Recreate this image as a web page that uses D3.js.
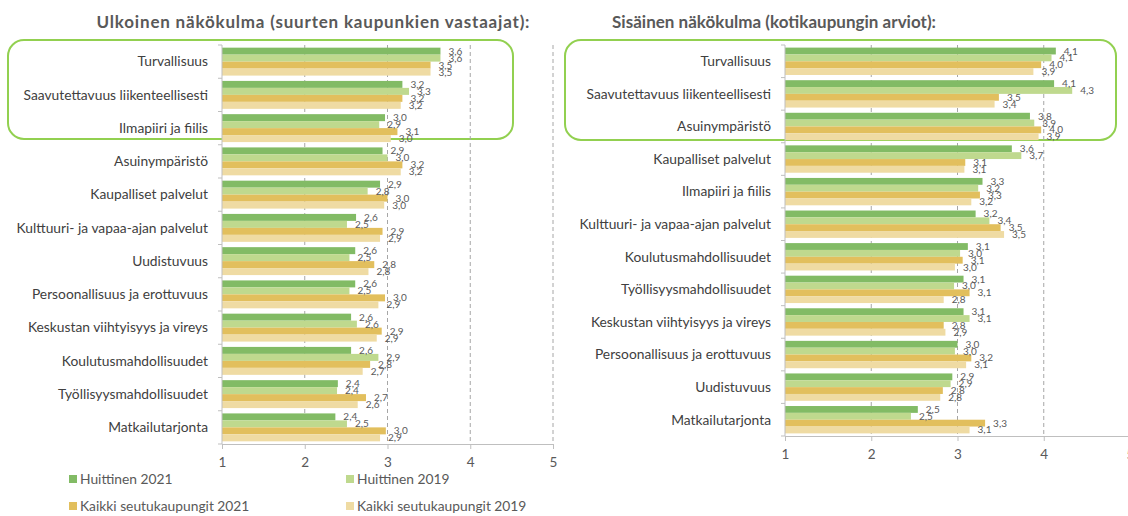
<!DOCTYPE html>
<html>
<head>
<meta charset="UTF-8">
<script src="https://d3js.org/d3.v7.min.js"></script>
<style>
    body { margin: 0; background: #ffffff; }
    svg { display: block; font-family: Lato, "Noto Sans", sans-serif; }
</style>
</head>
<body>
<svg id="chart" width="1128" height="516"></svg>
<script>
    // series names (legend)
    const seriesNames = ["Huittinen 2021", "Huittinen 2019", "Kaikki seutukaupungit 2021", "Kaikki seutukaupungit 2019"];

    // left panel: Ulkoinen näkökulma
    const leftCategories = ["Turvallisuus", "Saavutettavuus liikenteellisesti", "Ilmapiiri ja fiilis", "Asuinympäristö",
        "Kaupalliset palvelut", "Kulttuuri- ja vapaa-ajan palvelut", "Uudistuvuus", "Persoonallisuus ja erottuvuus",
        "Keskustan viihtyisyys ja vireys", "Koulutusmahdollisuudet", "Työllisyysmahdollisuudet", "Matkailutarjonta"];
    const leftH2021 = [3.64, 3.18, 2.97, 2.94, 2.91, 2.62, 2.61, 2.61, 2.56, 2.56, 2.40, 2.37];
    const leftH2019 = [3.64, 3.26, 2.90, 3.00, 2.76, 2.51, 2.54, 2.54, 2.63, 2.89, 2.39, 2.51];
    const leftK2021 = [3.52, 3.18, 3.12, 3.18, 3.00, 2.94, 2.84, 2.97, 2.93, 2.79, 2.74, 2.98];
    const leftK2019 = [3.52, 3.16, 3.04, 3.16, 2.96, 2.91, 2.77, 2.89, 2.87, 2.70, 2.64, 2.91];

    // right panel: Sisäinen näkökulma
    const rightCategories = ["Turvallisuus", "Saavutettavuus liikenteellisesti", "Asuinympäristö", "Kaupalliset palvelut",
        "Ilmapiiri ja fiilis", "Kulttuuri- ja vapaa-ajan palvelut", "Koulutusmahdollisuudet", "Työllisyysmahdollisuudet",
        "Keskustan viihtyisyys ja vireys", "Persoonallisuus ja erottuvuus", "Uudistuvuus", "Matkailutarjonta"];
    const rightH2021 = [4.14, 4.12, 3.84, 3.63, 3.29, 3.21, 3.12, 3.07, 3.07, 3.00, 2.94, 2.54];
    const rightH2019 = [4.09, 4.33, 3.89, 3.74, 3.24, 3.37, 3.03, 2.96, 3.14, 2.97, 2.92, 2.46];
    const rightK2021 = [3.97, 3.48, 3.97, 3.09, 3.26, 3.50, 3.06, 3.14, 2.84, 3.16, 2.83, 3.32];
    const rightK2019 = [3.88, 3.43, 3.94, 3.08, 3.16, 3.54, 2.97, 2.84, 2.86, 3.10, 2.80, 3.14];

    const axisTicks = [1, 2, 3, 4, 5];

    const colors = ["#82bb65", "#bfd98e", "#e2bf5d", "#efdba3"];
    const textColor = "#595959";
    const gridColor = "#a6a6a6";
    const axisColor = "#bfbfbf";

    const svg = d3.select("#chart");
    const fmt = v => d3.format(".1f")(v).replace(".", ",");

    function drawPanel(p) {
        const g = svg.append("g");

        const x = d3.scaleLinear().domain([1, 5]).range([p.x0, p.x1]);
        const y = d3.scaleBand().domain(p.categories).range([p.y0, p.y1])
            .paddingInner(0.16).paddingOuter(0.08);
        const ySub = d3.scaleBand().domain(d3.range(4)).range([0, y.bandwidth()]);

        // highlight box
        g.append("rect")
            .attr("x", p.box[0]).attr("y", p.box[1])
            .attr("width", p.box[2]).attr("height", p.box[3])
            .attr("rx", 16).attr("ry", 16)
            .attr("fill", "none")
            .attr("stroke", "#92d050")
            .attr("stroke-width", 2);

        // dashed grid
        g.selectAll(".grid")
            .data(axisTicks.filter(t => t > 1))
            .enter().append("line")
            .attr("x1", d => x(d)).attr("x2", d => x(d))
            .attr("y1", p.y0).attr("y2", p.y1)
            .attr("stroke", gridColor)
            .attr("stroke-dasharray", "4,3");

        // bars
        p.series.forEach((vals, si) => {
            g.selectAll(".bar" + si)
                .data(vals)
                .enter().append("rect")
                .attr("x", x(1))
                .attr("y", (d, i) => y(p.categories[i]) + ySub(si))
                .attr("width", d => x(d) - x(1))
                .attr("height", ySub.bandwidth())
                .attr("fill", colors[si]);
        });

        // value labels
        p.series.forEach((vals, si) => {
            g.selectAll(".lab" + si)
                .data(vals)
                .enter().append("text")
                .attr("x", d => x(d) + 8)
                .attr("y", (d, i) => y(p.categories[i]) + ySub(si) + ySub.bandwidth() / 2)
                .attr("dy", "0.35em")
                .attr("font-size", 10)
                .attr("fill", textColor)
                .text(d => fmt(d));
        });

        // left axis with ticks at category boundaries
        g.append("line")
            .attr("x1", x(1)).attr("x2", x(1))
            .attr("y1", p.y0).attr("y2", p.y1)
            .attr("stroke", axisColor);
        const step = (p.y1 - p.y0) / p.categories.length;
        g.selectAll(".ctick")
            .data(d3.range(p.categories.length + 1))
            .enter().append("line")
            .attr("x1", x(1) - 4).attr("x2", x(1))
            .attr("y1", d => p.y0 + d * step).attr("y2", d => p.y0 + d * step)
            .attr("stroke", axisColor);

        g.selectAll(".cat")
            .data(p.categories)
            .enter().append("text")
            .attr("x", p.labelX)
            .attr("y", d => y(d) + y.bandwidth() / 2)
            .attr("dy", "0.35em")
            .attr("text-anchor", "end")
            .attr("font-size", 13.8)
            .attr("fill", "#404040")
            .text(d => d);

        // bottom axis
        const xAxis = g.append("g")
            .attr("transform", `translate(0,${p.y1})`)
            .call(d3.axisBottom(x).tickValues(axisTicks).tickSize(5).tickSizeOuter(0).tickPadding(8).tickFormat(d3.format("d")));
        xAxis.select(".domain").attr("stroke", axisColor);
        xAxis.selectAll(".tick line").attr("stroke", axisColor);
        xAxis.selectAll("text")
            .attr("fill", textColor)
            .attr("font-size", 13.5)
            .attr("font-family", "Lato, 'Noto Sans', sans-serif");

        // title
        svg.append("text")
            .attr("x", p.titleX).attr("y", 22)
            .attr("text-anchor", "middle")
            .attr("dy", "0.35em")
            .attr("font-size", 17)
            .attr("font-weight", "bold")
            .attr("fill", textColor)
            .attr("textLength", p.titleWidth)
            .attr("lengthAdjust", "spacing")
            .text(p.title);
    }

    drawPanel({
        title: "Ulkoinen näkökulma (suurten kaupunkien vastaajat):",
        titleX: 313, titleWidth: 433,
        categories: leftCategories,
        series: [leftH2021, leftH2019, leftK2021, leftK2019],
        x0: 222, x1: 553, y0: 45, y1: 444,
        labelX: 208,
        box: [8, 40, 505, 99]
    });

    drawPanel({
        title: "Sisäinen näkökulma (kotikaupungin arviot):",
        titleX: 774, titleWidth: 324,
        categories: rightCategories,
        series: [rightH2021, rightH2019, rightK2021, rightK2019],
        x0: 785, x1: 1130, y0: 45, y1: 436,
        labelX: 771,
        box: [565, 40, 551, 100]
    });

    // legend
    const legendPos = [[69, 479], [346, 479], [69, 506], [346, 506]];
    const legend = svg.append("g");
    seriesNames.forEach((name, i) => {
        legend.append("rect")
            .attr("x", legendPos[i][0]).attr("y", legendPos[i][1] - 4)
            .attr("width", 8).attr("height", 8)
            .attr("fill", colors[i]);
        legend.append("text")
            .attr("x", legendPos[i][0] + 11).attr("y", legendPos[i][1])
            .attr("dy", "0.35em")
            .attr("font-size", 13.8)
            .attr("fill", textColor)
            .text(name);
    });
</script>
</body>
</html>
